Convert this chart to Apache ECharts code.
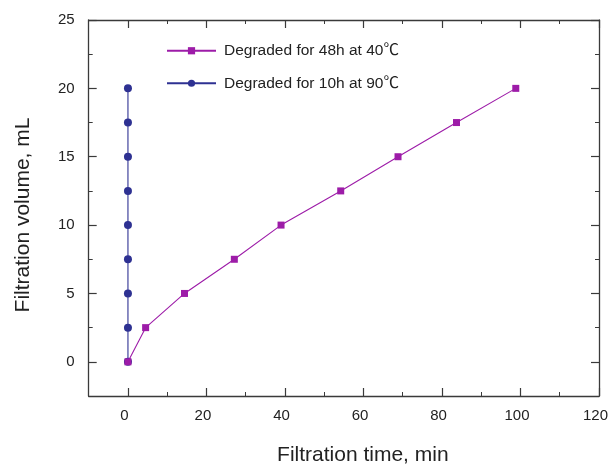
<!DOCTYPE html>
<html><head><meta charset="utf-8">
<script src="https://cdn.jsdelivr.net/npm/echarts@6/dist/echarts.min.js"></script>
<style>html,body{margin:0;padding:0;background:#fff}#c{width:608px;height:466px}</style>
</head><body><div id="c"></div>
<script>
const seriesNames = ['Degraded for 48h at 40\u2103', 'Degraded for 10h at 90\u2103'];
const time48h = [0, 4.5, 14.4, 27.1, 39, 54.2, 68.8, 83.7, 98.8];
const vol48h = [0, 2.5, 5, 7.5, 10, 12.5, 15, 17.5, 20];
const time10h = [0, 0, 0, 0, 0, 0, 0, 0, 0];
const vol10h = [0, 2.5, 5, 7.5, 10, 12.5, 15, 17.5, 20];
const xTicks = [0, 20, 40, 60, 80, 100, 120];
const yTicks = [0, 5, 10, 15, 20, 25];

const FONT = '"Liberation Sans", "Noto Sans CJK SC", Arial, sans-serif';
const AX = '#3a3a3a';
const purple = '#9d1ca8';
const navy = '#2e3192';

const L = 88.7, R = 9, T = 20, B = 70;
const pxX = (608 - L - R) / 130; // -10..120
const pxY = (466 - T - B) / 27.5; // -2.5..25

const chart = echarts.init(document.getElementById('c'), null, {renderer: 'canvas'});
const lineAx = {show: true, onZero: false, lineStyle: {color: AX, width: 1.3}};
const noLine = {show: false, onZero: false};
const hidden = {show: false};

chart.setOption({
  animation: false,
  backgroundColor: '#fff',
  grid: [
    {left: L, right: R, top: T, bottom: B, outerBoundsMode: 'none', containLabel: false},
    {left: L + 10 * pxX, right: R, top: T, bottom: B, outerBoundsMode: 'none', containLabel: false},
    {left: L, right: R, top: T, bottom: B + 2.5 * pxY, outerBoundsMode: 'none', containLabel: false}
  ],
  legend: {
    orient: 'vertical', left: 161, top: 38, itemGap: 17,
    itemWidth: 49, itemHeight: 9,
    textStyle: {fontFamily: FONT, fontSize: 15.5, color: '#222', padding: [0, 0, 0, 3]},
    data: seriesNames
  },
  xAxis: [
    {gridIndex: 0, type: 'value', min: -10, max: 120, interval: 10, position: 'bottom',
     axisLine: lineAx, axisTick: {inside: true, length: 4, lineStyle: {color: AX}},
     axisLabel: hidden, splitLine: hidden,
     name: 'Filtration time, min', nameLocation: 'middle', nameGap: 49,
     nameTextStyle: {fontFamily: FONT, fontSize: 21, color: '#222', padding: [0, 0, 0, 38]}},
    {gridIndex: 0, type: 'value', min: -10, max: 120, interval: 10, position: 'top',
     axisLine: lineAx, axisTick: {inside: true, length: 4, lineStyle: {color: AX}},
     axisLabel: hidden, splitLine: hidden},
    {gridIndex: 1, type: 'value', min: 0, max: 120, interval: 20, position: 'bottom',
     axisLine: noLine, axisTick: {inside: true, length: 8, lineStyle: {color: AX, width: 1.2}},
     axisLabel: {margin: 12, fontFamily: FONT, fontSize: 15, color: '#222', padding: [0, 7, 0, 0],
                 formatter: v => xTicks.includes(v) ? String(v) : ''},
     splitLine: hidden},
    {gridIndex: 1, type: 'value', min: 0, max: 120, interval: 20, position: 'top',
     axisLine: noLine, axisTick: {inside: true, length: 8, lineStyle: {color: AX, width: 1.2}},
     axisLabel: hidden, splitLine: hidden},
    {gridIndex: 2, type: 'value', min: -10, max: 120, show: false, axisLine: noLine}
  ],
  yAxis: [
    {gridIndex: 0, type: 'value', min: -2.5, max: 25, interval: 2.5, position: 'left',
     axisLine: lineAx, axisTick: {inside: true, length: 4, lineStyle: {color: AX}},
     axisLabel: hidden, splitLine: hidden,
     name: 'Filtration volume, mL', nameLocation: 'middle', nameGap: 55,
     nameTextStyle: {fontFamily: FONT, fontSize: 21, color: '#222', padding: [0, 14, 0, 0]}},
    {gridIndex: 0, type: 'value', min: -2.5, max: 25, interval: 2.5, position: 'right',
     axisLine: lineAx, axisTick: {inside: true, length: 4, lineStyle: {color: AX}},
     axisLabel: hidden, splitLine: hidden},
    {gridIndex: 1, type: 'value', min: -2.5, max: 25, show: false, axisLine: noLine},
    {gridIndex: 2, type: 'value', min: 0, max: 25, interval: 5, position: 'left',
     axisLine: noLine, axisTick: {inside: true, length: 8, lineStyle: {color: AX, width: 1.2}},
     axisLabel: {margin: 14, fontFamily: FONT, fontSize: 15, color: '#222',
                 formatter: v => yTicks.includes(v) ? String(v) : ''},
     splitLine: hidden},
    {gridIndex: 2, type: 'value', min: 0, max: 25, interval: 5, position: 'right',
     axisLine: noLine, axisTick: {inside: true, length: 8, lineStyle: {color: AX, width: 1.2}},
     axisLabel: hidden, splitLine: hidden}
  ],
  series: [
    {name: seriesNames[1], type: 'line', xAxisIndex: 0, yAxisIndex: 0,
     data: time10h.map((t, i) => [t, vol10h[i]]),
     symbol: 'circle', symbolSize: 8, color: navy,
     lineStyle: {color: navy, width: 1.1}, itemStyle: {color: navy}, z: 3},
    {name: seriesNames[0], type: 'line', xAxisIndex: 0, yAxisIndex: 0,
     data: time48h.map((t, i) => [t, vol48h[i]]),
     symbol: 'rect', symbolSize: 7, color: purple,
     lineStyle: {color: purple, width: 1.1}, itemStyle: {color: purple}, z: 4}
  ]
});
</script></body></html>
